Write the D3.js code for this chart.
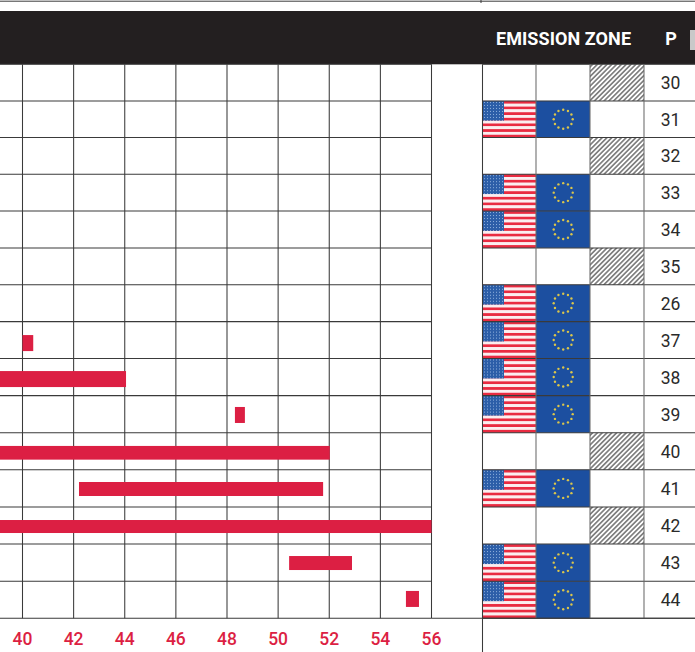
<!DOCTYPE html>
<html>
<head>
<meta charset="utf-8">
<script src="https://cdn.jsdelivr.net/npm/d3@7/dist/d3.min.js"></script>
<style>
html,body{margin:0;padding:0;background:#fff;overflow:hidden}
svg{display:block}
</style>
</head>
<body>
<svg id="chart" width="695" height="652"></svg>
<script>
// ---- data ----
const xTicks = [40, 42, 44, 46, 48, 50, 52, 54, 56];
const rowLabels = ["30","31","32","33","34","35","26","37","38","39","40","41","42","43","44"];
const zoneStatus = ["none","both","none","both","both","none","both","both","both","both","none","both","none","both","both"];
const barStarts = [null,null,null,null,null,null,null,40,38,48.31,38,42.21,38,50.43,55];
const barEnds   = [null,null,null,null,null,null,null,40.42,44.05,48.7,52.02,51.76,56,52.89,55.51];
const zoneHeader = "EMISSION ZONE";
const pHeader = "P";

// ---- layout / style ----
const W = 695, H = 652;
const RED = "#dc1f43", DARK = "#231f20", LINE = "#3a3a3a";
const svg = d3.select("#chart");
const x = d3.scaleLinear().domain([40, 56]).range([22.5, 431.5]);
const y = d3.scaleLinear().domain([0, 3, 8, 15]).range([64.3, 174.2, 358.5, 618.3]);
const rows = d3.range(rowLabels.length);
const rowH = i => y(i + 1) - y(i);
const cols = [482.5, 536, 590, 644, 695];

// bar thickness and centre drift vary row by row in the source
const thick = {7:16, 8:16, 9:16, 10:13.7, 11:14, 12:13, 13:14, 14:16};
const drift = {7:3, 8:2, 9:0.8, 10:1.5, 11:0.6, 12:1, 13:0.4, 14:-0.8};

const defs = svg.append("defs");
const hatch = defs.append("pattern").attr("id","hatch").attr("patternUnits","userSpaceOnUse")
  .attr("width",3.4).attr("height",3.4).attr("patternTransform","rotate(45)");
hatch.append("rect").attr("width",3.4).attr("height",3.4).attr("fill","#fff");
hatch.append("rect").attr("width",1.7).attr("height",3.4).attr("fill","#808080");
const dots = defs.append("pattern").attr("id","starfield").attr("patternUnits","userSpaceOnUse")
  .attr("width",3).attr("height",3);
dots.append("rect").attr("width",3).attr("height",3).attr("fill","#2c5ea8");
dots.append("rect").attr("x",1).attr("y",1).attr("width",1).attr("height",1).attr("fill","#8fb0dc");

// top rule and tick
svg.append("line").attr("x1",0).attr("x2",W).attr("y1",1.2).attr("y2",1.2).attr("stroke",LINE).attr("stroke-width",1);
svg.append("line").attr("x1",481).attr("x2",481).attr("y1",0).attr("y2",3).attr("stroke",LINE);

// header
svg.append("rect").attr("x",0).attr("y",11).attr("width",W).attr("height",53.3).attr("fill",DARK);
svg.append("rect").attr("x",690).attr("y",30).attr("width",5).attr("height",20).attr("fill","#c9c9c9");
svg.append("text").text(zoneHeader).attr("x",496).attr("y",45)
  .attr("textLength",135).attr("lengthAdjust","spacing")
  .attr("font-family","Roboto").attr("font-weight",700).attr("font-size",18).attr("fill","#fff");
svg.append("text").text(pHeader).attr("x",671).attr("y",45).attr("text-anchor","middle")
  .attr("font-family","Roboto").attr("font-weight",700).attr("font-size",18).attr("fill","#fff");

// zone table cells
const cell = svg.append("g").selectAll("g").data(rows).join("g")
  .attr("transform", i => `translate(0,${y(i)})`);

const both = cell.filter(i => zoneStatus[i] === "both");
const usW = cols[1] - cols[0];
both.each(function(i) {
  const g = d3.select(this), h = rowH(i), stripe = h / 13;
  d3.range(13).forEach(s => g.append("rect")
    .attr("x",cols[0]).attr("y",s*stripe).attr("width",usW).attr("height",stripe+0.05)
    .attr("fill", s % 2 ? "#fbeef0" : "#e92b41"));
  g.append("rect").attr("x",cols[0]).attr("y",0).attr("width",21.5).attr("height",h*7/13)
    .attr("fill","url(#starfield)");
  g.append("rect").attr("x",cols[1]).attr("y",0).attr("width",cols[2]-cols[1]).attr("height",h).attr("fill","#1c4fa0");
  const cx = (cols[1]+cols[2])/2 + 0.2, cy = h/2;
  d3.range(12).forEach(k => {
    const a = k * Math.PI / 6;
    g.append("circle").attr("cx",cx+9.5*Math.sin(a)).attr("cy",cy-9.5*Math.cos(a)).attr("r",1.2).attr("fill","#dcc64a");
  });
});
cell.filter(i => zoneStatus[i] === "none").append("rect")
  .attr("x",cols[2]).attr("y",0).attr("width",cols[3]-cols[2]).attr("height",i => rowH(i)).attr("fill","url(#hatch)");

// plot grid from axes
const vGrid = d3.axisTop(x).tickValues(xTicks).tickSize(y(0)-y(rowLabels.length)).tickFormat("").offset(0);
svg.append("g").attr("transform",`translate(0,${y(0)})`).call(vGrid)
  .call(g => g.select(".domain").remove())
  .selectAll("line").attr("stroke",LINE).attr("stroke-width",1.05);
const hLines = d3.range(rowLabels.length + 1);
svg.append("g").selectAll("line").data(hLines).join("line")
  .attr("x1",0).attr("x2",x(56)).attr("y1",d=>y(d)).attr("y2",d=>y(d))
  .attr("stroke",LINE).attr("stroke-width",1.05);

// table grid
svg.append("g").selectAll("line").data(hLines).join("line")
  .attr("x1",cols[0]).attr("x2",W).attr("y1",d=>y(d)).attr("y2",d=>y(d))
  .attr("stroke",LINE).attr("stroke-width",1.05);
svg.append("g").selectAll("line").data(cols.slice(1,4)).join("line")
  .attr("x1",d=>d).attr("x2",d=>d).attr("y1",y(0)).attr("y2",y(rowLabels.length))
  .attr("stroke","#6a6a6a").attr("stroke-width",1.05);
svg.append("line").attr("x1",cols[0]).attr("x2",cols[0]).attr("y1",y(0)).attr("y2",H)
  .attr("stroke",LINE).attr("stroke-width",1.05);
svg.append("line").attr("x1",x(56)).attr("x2",W).attr("y1",y(rowLabels.length)).attr("y2",y(rowLabels.length))
  .attr("stroke",LINE).attr("stroke-width",1.05);

// bars
const barRows = rows.filter(i => barStarts[i] !== null);
svg.append("g").selectAll("rect").data(barRows).join("rect")
  .attr("x", i => x(barStarts[i]))
  .attr("width", i => x(barEnds[i]) - x(barStarts[i]))
  .attr("y", i => y(i) + rowH(i)/2 + drift[i] - thick[i]/2)
  .attr("height", i => thick[i])
  .attr("fill", RED);

// row labels
svg.append("g").selectAll("text").data(rows).join("text")
  .text(i => rowLabels[i])
  .attr("x",670.5).attr("y", i => y(i) + rowH(i)/2 + 6.5).attr("text-anchor","middle")
  .attr("font-family","Roboto").attr("font-size",17.5).attr("fill","#2a2a2a");

// bottom axis labels
const axis = d3.axisBottom(x).tickValues(xTicks).tickSize(0).tickPadding(0).tickFormat(d3.format("d")).offset(0);
svg.append("g").attr("transform","translate(0,631)").call(axis)
  .call(g => g.select(".domain").remove())
  .selectAll("text").attr("font-family","Roboto").attr("font-weight",500).attr("font-size",17.5)
  .attr("fill",RED).attr("dy","0.8em");
</script>
</body>
</html>
